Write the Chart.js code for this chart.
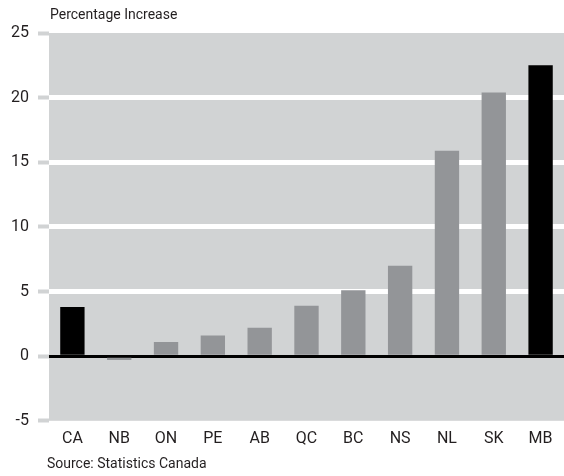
<!DOCTYPE html>
<html>
<head>
<meta charset="utf-8">
<script src="https://cdn.jsdelivr.net/npm/chart.js@4.4.1/dist/chart.umd.min.js"></script>
<style>
    html, body { margin: 0; padding: 0; background: #fff; }
    #wrap { width: 564px; height: 476px; position: relative; }
</style>
</head>
<body>
<div id="wrap"><canvas id="chart"></canvas></div>
<script>
// ----- DATA ----- //
const provinces = ['CA', 'NB', 'ON', 'PE', 'AB', 'QC', 'BC', 'NS', 'NL', 'SK', 'MB'];
const increase = [3.8, -0.3, 1.1, 1.6, 2.2, 3.9, 5.1, 7.0, 15.9, 20.4, 22.5];
const highlighted = ['CA', 'MB'];
const yTicks = [-5, 0, 5, 10, 15, 20, 25];

const FONT = 'Roboto, "Liberation Sans Narrow", sans-serif';
const PLOT_BG = '#d1d3d4';
const TEXT = '#231f20';

// Gray plot background + title and source text
const decor = {
    id: 'decor',
    beforeDraw(chart) {
        const { ctx, chartArea: a } = chart;
        ctx.save();
        ctx.fillStyle = PLOT_BG;
        ctx.fillRect(a.left, a.top, a.right - a.left, a.bottom - a.top);
        ctx.fillStyle = TEXT;
        ctx.font = '14px ' + FONT;
        ctx.textBaseline = 'alphabetic';
        ctx.fillText('Percentage Increase', a.left + 1, 19);
        ctx.fillText('Source: Statistics Canada', a.left - 2, 468);
        ctx.restore();
    }
};

new Chart(document.getElementById('chart'), {
    type: 'bar',
    data: {
        labels: provinces,
        datasets: [{
            data: increase,
            backgroundColor: provinces.map(p => highlighted.includes(p) ? '#000000' : '#939598'),
            borderWidth: 0,
            categoryPercentage: 1,
            barPercentage: 0.52
        }]
    },
    options: {
        responsive: true,
        maintainAspectRatio: false,
        animation: false,
        layout: { padding: { top: 33, right: 0, bottom: 18, left: 2 } },
        plugins: { legend: { display: false }, tooltip: { enabled: false } },
        scales: {
            x: {
                grid: { display: false, drawTicks: false },
                border: { display: false },
                ticks: { color: TEXT, font: { family: FONT, size: 16 }, padding: 9 }
            },
            y: {
                min: -5,
                max: 25,
                afterBuildTicks: axis => { axis.ticks = yTicks.map(v => ({ value: v })); },
                border: { display: false },
                grid: {
                    color: c => c.tick.value === 0 ? '#000000' : (c.tick.value === 25 || c.tick.value === -5 ? 'rgba(0,0,0,0)' : '#ffffff'),
                    lineWidth: c => c.tick.value === 0 ? 3 : 5,
                    tickColor: PLOT_BG,
                    tickWidth: 4,
                    tickLength: 11
                },
                ticks: { color: TEXT, font: { family: FONT, size: 16 }, padding: 9 }
            }
        }
    },
    plugins: [decor]
});
</script>
</body>
</html>
